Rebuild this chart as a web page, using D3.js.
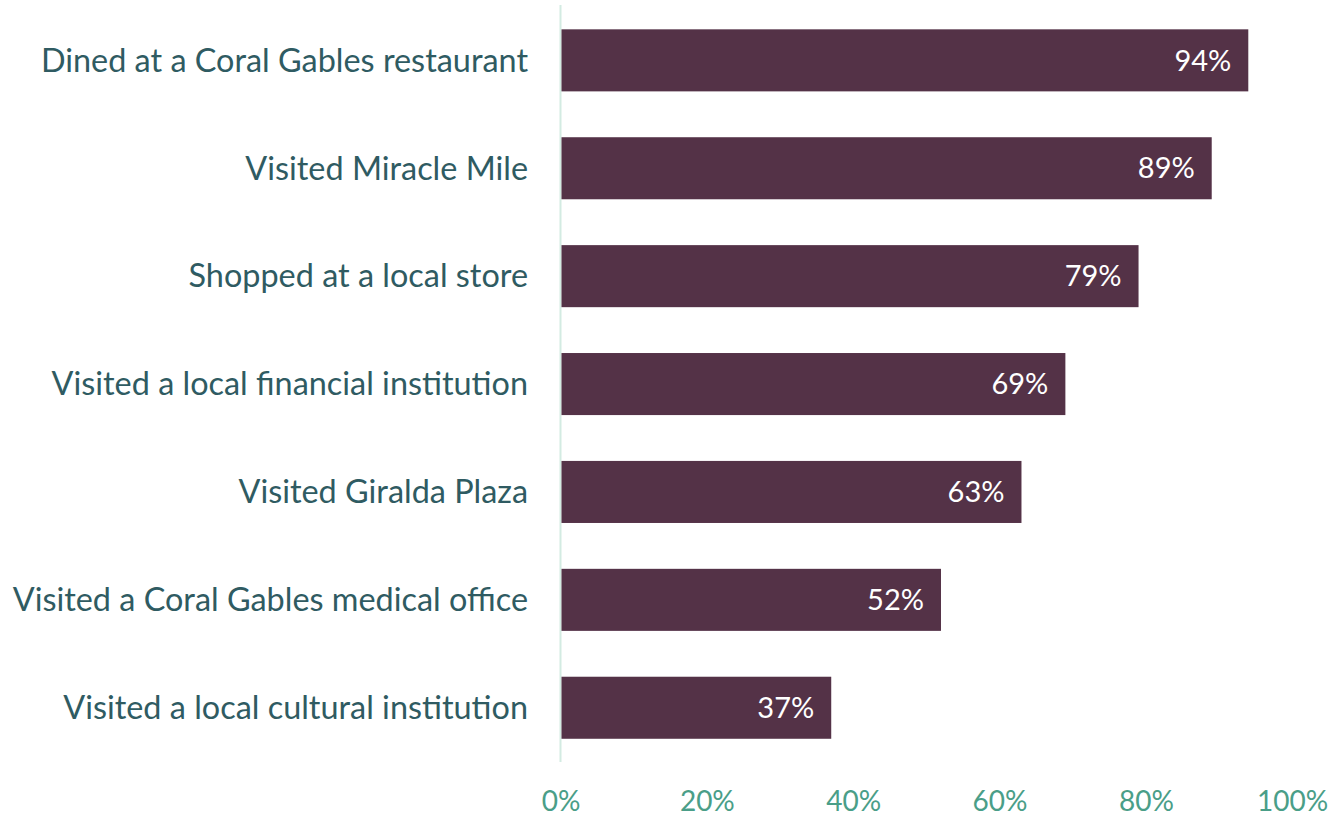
<!DOCTYPE html>
<html><head><meta charset="utf-8">
<script src="https://cdn.jsdelivr.net/npm/d3@7"></script>
<style>html,body{margin:0;padding:0;background:#fff;}svg{display:block;}</style>
</head><body>
<svg id="chart" width="1334" height="817"></svg>
<script>
const categories = [
  "Dined at a Coral Gables restaurant",
  "Visited Miracle Mile",
  "Shopped at a local store",
  "Visited a local financial institution",
  "Visited Giralda Plaza",
  "Visited a Coral Gables medical office",
  "Visited a local cultural institution"
];
const values = [94, 89, 79, 69, 63, 52, 37];
const tickValues = [0, 20, 40, 60, 80, 100];

const svg = d3.select("#chart");
const font = "Lato, 'Open Sans', sans-serif";
const x = d3.scaleLinear().domain([0, 100]).range([560.5, 1292.2]);
const y = d3.scaleBand().domain(categories).range([6.4, 761.7]).paddingInner(0.425).paddingOuter(0.2125);

// axis line
svg.append("line").attr("x1", x(0)).attr("x2", x(0)).attr("y1", 5).attr("y2", 762)
  .attr("stroke", "#d3ebe2").attr("stroke-width", 2);

const data = categories.map((c, i) => ({c, v: values[i]}));

svg.selectAll("rect.bar").data(data).enter().append("rect")
  .attr("class", "bar")
  .attr("x", x(0) + 1)
  .attr("y", d => y(d.c))
  .attr("width", d => x(d.v) - x(0) - 1)
  .attr("height", y.bandwidth())
  .attr("fill", "#543247");

svg.selectAll("text.val").data(data).enter().append("text")
  .attr("class", "val")
  .attr("x", d => x(d.v) - 17)
  .attr("y", d => y(d.c) + y.bandwidth() / 2)
  .attr("dy", "0.35em")
  .attr("text-anchor", "end")
  .attr("fill", "#ffffff")
  .style("font-family", font).style("font-size", "29px")
  .text(d => d.v + "%");

svg.selectAll("text.cat").data(data).enter().append("text")
  .attr("class", "cat")
  .attr("x", 528)
  .attr("y", d => y(d.c) + y.bandwidth() / 2)
  .attr("dy", "0.35em")
  .attr("text-anchor", "end")
  .attr("fill", "#2f5b62")
  .style("font-family", font).style("font-size", "32.4px")
  .text(d => d.c);

const axis = d3.axisBottom(x).tickValues(tickValues).tickFormat(d => d + "%").tickSize(0).tickPadding(0);
const g = svg.append("g").attr("transform", "translate(0,790)").call(axis);
g.select(".domain").remove();
g.selectAll("text")
  .attr("y", 0).attr("dy", "0.75em")
  .attr("fill", "#4a9e88")
  .style("font-family", font).style("font-size", "28px");
</script>
</body></html>
